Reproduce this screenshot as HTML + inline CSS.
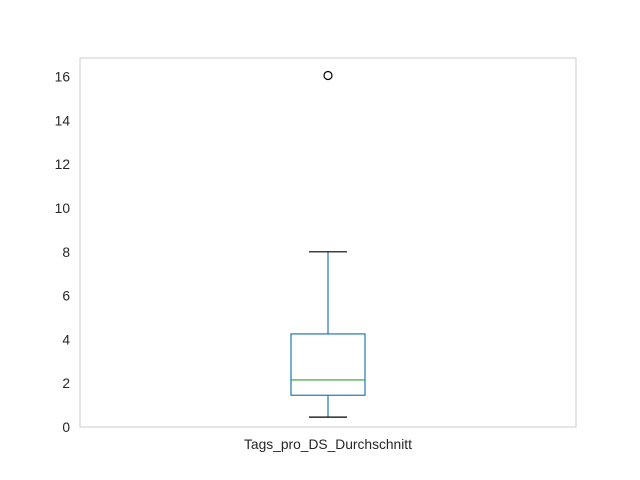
<!DOCTYPE html>
<html><head><meta charset="utf-8"><style>
body{margin:0;background:#fff;}
svg{display:block;font-family:"Liberation Sans",Arial,sans-serif;}
</style></head><body>
<svg id="chart" width="640" height="480">
<rect x="80" y="58" width="496" height="369" fill="#fff" stroke="#cccccc" stroke-width="1"/>
</svg>
<script>
const categories = ["Tags_pro_DS_Durchschnitt"];
const whiskerLow = [0.45];
const q1Values = [1.45];
const medianValues = [2.15];
const q3Values = [4.25];
const whiskerHigh = [8.0];
const outliers = [[16.05]];
const yTicks = [0, 2, 4, 6, 8, 10, 12, 14, 16];

const NS = "http://www.w3.org/2000/svg";
const svg = document.getElementById("chart");
const x0 = 80, x1 = 576, yTop = 58, yBot = 427;
const yMin = 0, yMax = 16.85;
function yS(v){ return yBot - (v - yMin) / (yMax - yMin) * (yBot - yTop); }
function xS(i){ return x0 + (i + 0.5) * (x1 - x0) / categories.length; }
function mk(tag, attrs){ const e = document.createElementNS(NS, tag); for (const k in attrs) e.setAttribute(k, attrs[k]); svg.appendChild(e); return e; }

yTicks.forEach(t => {
  const y = yS(t);
  const tx = mk("text", {x: 70, y: y + 5, "text-anchor": "end", "font-size": 13.8, fill: "#262626"});
  tx.textContent = t;
  
  
});

categories.forEach((c, i) => {
  const cx = xS(i), hw = 37, cw = 19;
  const blue = "#1f77b4";
  const w1 = mk("line", {x1: cx, x2: cx, y1: yS(q1Values[i]), y2: yS(whiskerLow[i]), stroke: blue, "stroke-width": 1.2});
  
  
  const w2 = mk("line", {x1: cx, x2: cx, y1: yS(q3Values[i]), y2: yS(whiskerHigh[i]), stroke: blue, "stroke-width": 1.2});
  
  
  const c1 = mk("line", {x1: cx - cw, x2: cx + cw, y1: yS(whiskerLow[i]), y2: yS(whiskerLow[i]), stroke: "#000", "stroke-width": 1.2});
  
  
  const c2 = mk("line", {x1: cx - cw, x2: cx + cw, y1: yS(whiskerHigh[i]), y2: yS(whiskerHigh[i]), stroke: "#000", "stroke-width": 1.2});
  
  
  const b = mk("rect", {x: cx - hw, y: yS(q3Values[i]), width: 2 * hw, height: yS(q1Values[i]) - yS(q3Values[i]), fill: "none", stroke: blue, "stroke-width": 1.2});
  
  
  const m = mk("line", {x1: cx - hw, x2: cx + hw, y1: yS(medianValues[i]), y2: yS(medianValues[i]), stroke: "#2ca02c", "stroke-width": 1.2});
  
  
  outliers[i].forEach(o => {
    const p = mk("circle", {cx: cx, cy: yS(o), r: 4, fill: "none", stroke: "#000", "stroke-width": 1.2});
    
    
  });
  const lbl = mk("text", {x: cx, y: 449, "text-anchor": "middle", "font-size": 13.8, fill: "#262626"});
  lbl.textContent = c;
  
  
});
</script>
</body></html>
